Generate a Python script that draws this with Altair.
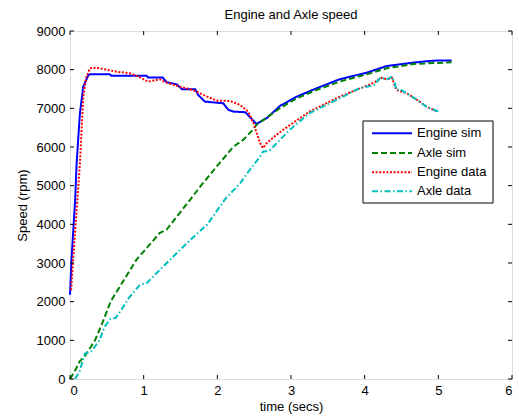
import altair as alt
import pandas as pd

# ---- data ----
engine_sim_t = [0.0, 0.02, 0.045, 0.07, 0.09, 0.135, 0.18, 0.25, 0.27, 0.54, 0.56, 1.04, 1.06, 1.26,
                1.31, 1.45, 1.52, 1.7, 1.74, 1.83, 2.08, 2.15, 2.22, 2.38, 2.47, 2.53, 2.67, 2.85,
                3.08, 3.35, 3.66, 4.03, 4.3, 4.66, 4.93, 5.18]
engine_sim_v = [2180, 3080, 3860, 4635, 5580, 6880, 7560, 7860, 7882, 7882, 7845, 7845, 7795, 7795,
                7675, 7620, 7495, 7495, 7345, 7175, 7130, 6960, 6915, 6900, 6718, 6597, 6744, 7062,
                7305, 7520, 7752, 7923, 8095, 8183, 8233, 8240]

axle_sim_t = [0.0, 0.07, 0.13, 0.2, 0.34, 0.45, 0.55, 0.68, 0.9, 1.22, 1.31, 1.63, 1.77, 1.99,
              2.22, 2.35, 2.48, 2.53, 2.85, 3.08, 3.35, 3.66, 4.03, 4.3, 4.66, 5.18]
axle_sim_v = [0, 220, 450, 590, 1000, 1500, 2000, 2400, 3080, 3780, 3860, 4635, 4980, 5494,
              6010, 6183, 6440, 6571, 7003, 7262, 7477, 7692, 7881, 8036, 8147, 8190]

engine_data_t = [0.015, 0.05, 0.1, 0.135, 0.18, 0.22, 0.27, 0.36, 0.63, 0.81, 0.93, 1.06, 1.22,
                 1.31, 1.49, 1.67, 1.81, 1.99, 2.17, 2.31, 2.42, 2.49, 2.58, 2.62, 2.67, 2.8,
                 2.89, 3.25, 3.66, 4.11, 4.23, 4.3, 4.37, 4.43, 4.57, 4.71, 4.84, 4.99]
engine_data_v = [2300, 3300, 4635, 5580, 7300, 7800, 8036, 8052, 7948, 7906, 7820, 7690, 7752,
                 7665, 7560, 7475, 7346, 7200, 7190, 7088, 6915, 6615, 6100, 5975, 6100, 6310,
                 6440, 6915, 7300, 7650, 7790, 7750, 7790, 7475, 7390, 7220, 7045, 6915]

axle_data_t = [0.07, 0.13, 0.2, 0.29, 0.4, 0.47, 0.55, 0.62, 0.7, 0.8, 0.95, 1.04, 1.13, 1.22,
               1.54, 1.72, 1.86, 2.1, 2.31, 2.44, 2.58, 2.62, 2.71, 2.98, 3.25, 3.66, 3.93,
               4.13, 4.21, 4.3, 4.37, 4.41, 4.43, 4.48, 4.57, 4.71, 4.84, 5.0]
axle_data_v = [0, 200, 650, 720, 1000, 1350, 1560, 1580, 1800, 2100, 2437, 2480, 2650, 2824,
               3426, 3750, 3987, 4640, 5065, 5408, 5752, 5880, 5910, 6440, 6875, 7260, 7520,
               7600, 7790, 7750, 7820, 7650, 7475, 7495, 7390, 7220, 7045, 6915]

series_names = ["Engine sim", "Axle sim", "Engine data", "Axle data"]
series_colors = ["#0000FF", "#008000", "#FF0000", "#00BFBF"]
series_dash = [[1, 0], [6, 3], [2, 1.6], [6, 2.5, 1.5, 2.5]]
x_ticks = [0, 1, 2, 3, 4, 5, 6]
y_ticks = [0, 1000, 2000, 3000, 4000, 5000, 6000, 7000, 8000, 9000]
chart_title = "Engine and Axle speed"

series_data = [(engine_sim_t, engine_sim_v), (axle_sim_t, axle_sim_v),
               (engine_data_t, engine_data_v), (axle_data_t, axle_data_v)]

W, H = 442, 348
FONT = "Liberation Sans"
FS = 13

xscale = alt.Scale(domain=[0, 6], nice=False, zero=False)
yscale = alt.Scale(domain=[0, 9000], nice=False, zero=False)

x_axis = alt.Axis(values=x_ticks, title="time (secs)", grid=False, ticks=False,
                  domain=False, labelPadding=5, titlePadding=3, labelOverlap=False,
                  labelFontSize=FS, titleFontSize=FS, labelFont=FONT,
                  titleFont=FONT, labelColor="black", titleColor="black",
                  titleFontWeight="normal", format="d")
y_axis = alt.Axis(values=y_ticks, title="Speed (rpm)", grid=False, ticks=False,
                  domain=False, labelPadding=5, titlePadding=6.5, labelOverlap=False,
                  labelFontSize=FS, titleFontSize=FS, labelFont=FONT,
                  titleFont=FONT, labelColor="black", titleColor="black",
                  titleFontWeight="normal", format="d")

layers = []
for i, (name, (ts, vs)) in enumerate(zip(series_names, series_data)):
    df = pd.DataFrame({"t": ts, "v": vs, "series": name})
    layers.append(
        alt.Chart(df).mark_line(color=series_colors[i], strokeWidth=2,
                                strokeDash=series_dash[i], interpolate="linear").encode(
            x=alt.X("t:Q", scale=xscale, axis=x_axis),
            y=alt.Y("v:Q", scale=yscale, axis=y_axis),
        )
    )

# inward ticks on all four sides
xt = pd.DataFrame({"t": x_ticks})
yt = pd.DataFrame({"v": y_ticks})
tick_len = 4
layers.append(alt.Chart(xt).mark_rule(color="black", strokeWidth=1).encode(
    x=alt.X("t:Q", scale=xscale, axis=x_axis), y=alt.value(H), y2=alt.value(H - tick_len)))
layers.append(alt.Chart(xt).mark_rule(color="black", strokeWidth=1).encode(
    x=alt.X("t:Q", scale=xscale, axis=x_axis), y=alt.value(0), y2=alt.value(tick_len)))
layers.append(alt.Chart(yt).mark_rule(color="black", strokeWidth=1).encode(
    y=alt.Y("v:Q", scale=yscale, axis=y_axis), x=alt.value(0), x2=alt.value(tick_len)))
layers.append(alt.Chart(yt).mark_rule(color="black", strokeWidth=1).encode(
    y=alt.Y("v:Q", scale=yscale, axis=y_axis), x=alt.value(W), x2=alt.value(W - tick_len)))

# legend box (MATLAB style), one row of data per legend item
one = pd.DataFrame({"k": [0]})
lg_left, lg_right, lg_top, lg_bottom = 293, 423, 90, 172
row_y = [102.3, 122.0, 141.3, 160.3]
layers.append(alt.Chart(one).mark_rect(fill="white", stroke="black", strokeWidth=1).encode(
    x=alt.value(lg_left), x2=alt.value(lg_right), y=alt.value(lg_top), y2=alt.value(lg_bottom)))
for i, name in enumerate(series_names):
    layers.append(alt.Chart(one).mark_rule(color=series_colors[i], strokeWidth=2,
                                           strokeDash=series_dash[i]).encode(
        x=alt.value(302), x2=alt.value(342), y=alt.value(row_y[i])))
    layers.append(alt.Chart(one).mark_text(align="left", baseline="middle", fontSize=FS,
                                           font=FONT, color="black", fontWeight="normal").encode(
        x=alt.value(347), y=alt.value(row_y[i]), text=alt.value(name)))

# chart title, MATLAB style, centred over the axes
layers.append(alt.Chart(one).mark_text(align="center", baseline="alphabetic", fontSize=FS,
                                       font=FONT, color="black").encode(
    x=alt.value(W / 2), y=alt.value(-12), text=alt.value(chart_title)))

chart = alt.layer(*layers).properties(
    width=W, height=H,
    autosize=alt.AutoSizeParams(type="none"),
    padding={"left": 70, "top": 31, "right": 7, "bottom": 39},
).configure_view(stroke="black", strokeWidth=1).configure(background="white")

chart.save("out.html", embed_options={"renderer": "svg", "actions": False})
